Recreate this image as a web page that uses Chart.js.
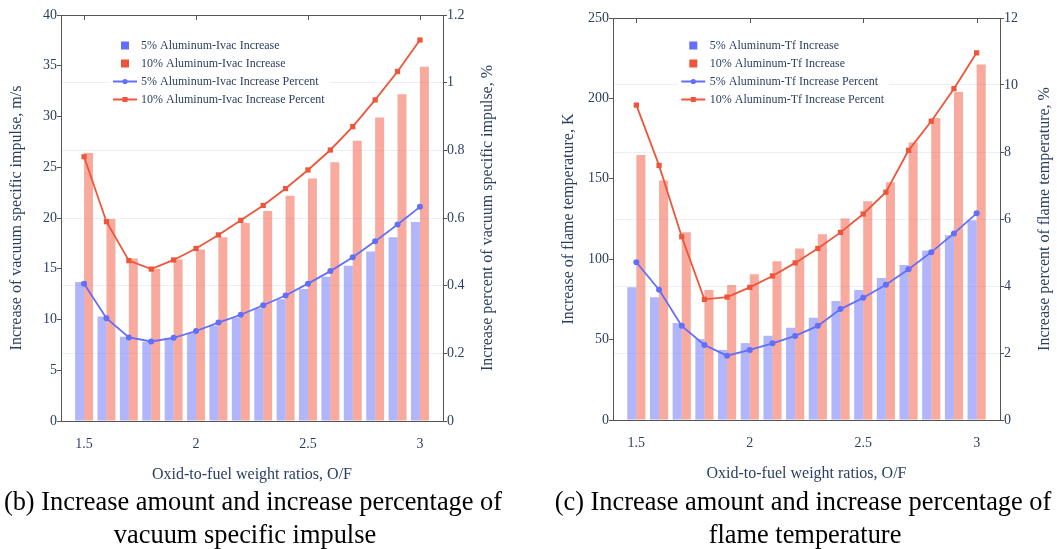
<!DOCTYPE html>
<html>
<head>
<meta charset="utf-8">
<script src="https://cdn.jsdelivr.net/npm/chart.js@4.4.1/dist/chart.umd.min.js"></script>
<style>
  body { margin: 0; background: #fff; width: 1057px; height: 549px; overflow: hidden; position: relative;
         font-family: "Liberation Serif", "Times New Roman", serif; }
  canvas { position: absolute; top: 0; }
  .cap { position: absolute; font-size: 26.4px; line-height: 33px; color: #000; text-align: center; white-space: nowrap; }
</style>
</head>
<body>
<canvas id="c1" width="528" height="490" style="left:0"></canvas>
<canvas id="c2" width="529" height="490" style="left:528px"></canvas>
<div class="cap" style="left:3px;width:500px;top:485px">(b) Increase amount and increase percentage of</div>
<div class="cap" style="left:45px;width:400px;top:518px">vacuum specific impulse</div>
<div class="cap" style="left:553px;width:500px;top:485px">(c) Increase amount and increase percentage of</div>
<div class="cap" style="left:605px;width:400px;top:518px">flame temperature</div>
<script>
// O/F values shared by both panels
const ratios = [1.5, 1.6, 1.7, 1.8, 1.9, 2.0, 2.1, 2.2, 2.3, 2.4, 2.5, 2.6, 2.7, 2.8, 2.9, 3.0];
const ratioTicks = [1.5, 2, 2.5, 3];

// (b) vacuum specific impulse
const ivac5 = [13.7, 10.3, 8.3, 7.8, 8.2, 8.7, 9.4, 10.2, 11.1, 12.0, 13.0, 14.2, 15.3, 16.7, 18.1, 19.6];
const ivac10 = [26.4, 19.9, 16.0, 15.0, 15.9, 16.9, 18.1, 19.5, 20.7, 22.2, 23.9, 25.5, 27.6, 29.9, 32.2, 34.9];
const ivac5Pct = [0.406, 0.304, 0.247, 0.235, 0.246, 0.266, 0.291, 0.314, 0.342, 0.371, 0.406, 0.443, 0.484, 0.531, 0.581, 0.633];
const ivac10Pct = [0.781, 0.589, 0.474, 0.449, 0.476, 0.510, 0.550, 0.593, 0.637, 0.687, 0.742, 0.801, 0.870, 0.949, 1.033, 1.126];
const ivacTicks = [0, 5, 10, 15, 20, 25, 30, 35, 40];
const ivacPctTicks = [0, 0.2, 0.4, 0.6, 0.8, 1, 1.2];

// (c) flame temperature
const tf5 = [82.5, 76.3, 60.3, 50.3, 43.6, 47.8, 52.4, 57.4, 63.6, 74.0, 80.8, 88.3, 96.4, 105.4, 114.9, 124.3];
const tf10 = [164.8, 149.0, 116.8, 80.8, 84.0, 90.6, 98.7, 106.6, 115.5, 125.3, 136.1, 147.9, 172.5, 187.8, 204.0, 221.1];
const tf5Pct = [4.71, 3.89, 2.81, 2.24, 1.92, 2.09, 2.29, 2.51, 2.81, 3.31, 3.65, 4.04, 4.50, 5.01, 5.57, 6.17];
const tf10Pct = [9.40, 7.60, 5.47, 3.60, 3.67, 3.96, 4.30, 4.69, 5.12, 5.60, 6.15, 6.80, 8.05, 8.92, 9.89, 10.96];
const tfTicks = [0, 50, 100, 150, 200, 250];
const tfPctTicks = [0, 2, 4, 6, 8, 10, 12];

const serif = '"Liberation Serif", "Times New Roman", serif';
const slate = '#2a3f5f';
const frame = '#555';
const blue = '#636efa', red = '#ef553b';

const pts = ys => ratios.map((x, i) => ({ x: x, y: ys[i] }));
const fixTicks = list => scale => { scale.ticks = list.map(v => ({ value: v })); };

// top edge with mirrored ticks, inside legend, axis titles
const extras = {
  id: 'extras',
  afterDatasetsDraw(chart, args, opts) {
    const { ctx, chartArea: a, scales } = chart;
    ctx.save();
    ctx.strokeStyle = frame;
    ctx.lineWidth = 1;
    ctx.beginPath();
    ctx.moveTo(a.left, a.top + 0.5);
    ctx.lineTo(a.right, a.top + 0.5);
    scales.x.ticks.forEach(t => {
      const px = Math.round(scales.x.getPixelForValue(t.value)) + 0.5;
      ctx.moveTo(px, a.top);
      ctx.lineTo(px, a.top + 5);
    });
    ctx.stroke();

    // legend
    const lg = opts.legend;
    ctx.font = '12px ' + serif;
    const sets = chart.data.datasets;
    const w = Math.max(...sets.map(d => ctx.measureText(d.label).width));
    ctx.fillStyle = '#fff';
    ctx.fillRect(lg.x - 15, lg.y - 10, lg.dx + w + 20, 18 * (sets.length - 1) + 20);
    sets.forEach((d, i) => {
      const y = lg.y + i * 18;
      const c = d.legendColor;
      if (d.type === 'line') {
        ctx.strokeStyle = c;
        ctx.lineWidth = 2;
        ctx.beginPath();
        ctx.moveTo(lg.x - 12, y);
        ctx.lineTo(lg.x + 12, y);
        ctx.stroke();
        ctx.fillStyle = c;
        if (d.pointStyle === 'rect') ctx.fillRect(lg.x - 2.5, y - 2.5, 5, 5);
        else { ctx.beginPath(); ctx.arc(lg.x, y, 2.6, 0, 2 * Math.PI); ctx.fill(); }
      } else {
        ctx.fillStyle = c;
        ctx.fillRect(lg.x - 4, y - 4, 8, 8);
      }
      ctx.fillStyle = slate;
      ctx.textAlign = 'left';
      ctx.textBaseline = 'middle';
      ctx.fillText(d.label, lg.x + lg.dx, y);
    });

    // axis titles
    const t = opts.titles;
    const mid = (a.top + a.bottom) / 2;
    ctx.font = '16px ' + serif;
    ctx.fillStyle = slate;
    ctx.textAlign = 'center';
    ctx.textBaseline = 'middle';
    ctx.fillText(t.x, (a.left + a.right) / 2, a.bottom + 54);
    [[t.y, a.left - 44], [t.y1, a.right + 45]].forEach(([txt, x]) => {
      ctx.save();
      ctx.translate(x, mid);
      ctx.rotate(-Math.PI / 2);
      ctx.fillText(txt, 0, 0);
      ctx.restore();
    });
    ctx.restore();
  }
};

function makeChart(id, o) {
  const tickFont = { family: serif, size: 14 };
  return new Chart(document.getElementById(id), {
    type: 'bar',
    data: {
      datasets: [
        { type: 'bar', label: o.labels[0], data: pts(o.bars[0]), yAxisID: 'y', order: 2,
          backgroundColor: 'rgba(99,110,250,0.5)', borderWidth: 0, legendColor: blue },
        { type: 'bar', label: o.labels[1], data: pts(o.bars[1]), yAxisID: 'y', order: 2,
          backgroundColor: 'rgba(239,85,59,0.5)', borderWidth: 0, legendColor: red },
        { type: 'line', label: o.labels[2], data: pts(o.lines[0]), yAxisID: 'y1', order: 0,
          borderColor: blue, backgroundColor: blue, borderWidth: 1.8, tension: 0,
          pointStyle: 'circle', pointRadius: 3, pointBorderWidth: 0, legendColor: blue },
        { type: 'line', label: o.labels[3], data: pts(o.lines[1]), yAxisID: 'y1', order: 1,
          borderColor: red, backgroundColor: red, borderWidth: 1.8, tension: 0,
          pointStyle: 'rect', pointRadius: 3.7, pointBorderWidth: 0, legendColor: red }
      ]
    },
    options: {
      responsive: false,
      animation: false,
      layout: { padding: { top: o.top, left: 0, right: 0, bottom: 0 } },
      datasets: { bar: { categoryPercentage: 0.8, barPercentage: 1.0, grouped: true } },
      plugins: {
        legend: { display: false },
        tooltip: { enabled: false },
        extras: { legend: o.legend, titles: o.titles }
      },
      scales: {
        x: {
          type: 'linear', min: 1.397, max: 3.103, offset: false,
          afterBuildTicks: fixTicks(ratioTicks),
          afterFit: s => { s.height = o.xHeight; },
          grid: { display: false },
          border: { display: true, color: frame, width: 1 },
          ticks: { font: tickFont, color: slate, padding: 7, maxRotation: 0, callback: v => String(v) }
        },
        y: {
          position: 'left', min: 0, max: o.yTicks[o.yTicks.length - 1],
          afterBuildTicks: fixTicks(o.yTicks),
          afterFit: s => { s.width = o.leftWidth; },
          grid: { drawOnChartArea: false, tickLength: 4, tickColor: frame },
          border: { display: true, color: frame, width: 1 },
          ticks: { font: tickFont, color: slate, padding: 0, callback: v => String(v) }
        },
        y1: {
          position: 'right', min: 0, max: o.y1Ticks[o.y1Ticks.length - 1],
          afterBuildTicks: fixTicks(o.y1Ticks),
          afterFit: s => { s.width = o.rightWidth; },
          grid: { drawOnChartArea: true, color: '#ebf0f8', tickLength: 4, tickColor: frame },
          border: { display: true, color: frame, width: 1 },
          ticks: { font: tickFont, color: slate, padding: 0, callback: v => String(+v.toFixed(1)) }
        }
      }
    },
    plugins: [extras]
  });
}

makeChart('c1', {
  labels: ['5% Aluminum-Ivac Increase', '10% Aluminum-Ivac Increase',
           '5% Aluminum-Ivac Increase Percent', '10% Aluminum-Ivac Increase Percent'],
  bars: [ivac5, ivac10], lines: [ivac5Pct, ivac10Pct],
  yTicks: ivacTicks, y1Ticks: ivacPctTicks,
  top: 15, leftWidth: 61, rightWidth: 85, xHeight: 69,
  legend: { x: 125, y: 45.5, dx: 16 },
  titles: { x: 'Oxid-to-fuel weight ratios, O/F',
            y: 'Increase of vacuum specific impulse, m/s',
            y1: 'Increase percent of vacuum specific impulse, %' }
});

makeChart('c2', {
  labels: ['5% Aluminum-Tf Increase', '10% Aluminum-Tf Increase',
           '5% Aluminum-Tf Increase Percent', '10% Aluminum-Tf Increase Percent'],
  bars: [tf5, tf10], lines: [tf5Pct, tf10Pct],
  yTicks: tfTicks, y1Ticks: tfPctTicks,
  top: 18, leftWidth: 85, rightWidth: 57, xHeight: 70,
  legend: { x: 165.3, y: 45.5, dx: 16.5 },
  titles: { x: 'Oxid-to-fuel weight ratios, O/F',
            y: 'Increase of flame temperature, K',
            y1: 'Increase percent of flame temperature, %' }
});
</script>
</body>
</html>
